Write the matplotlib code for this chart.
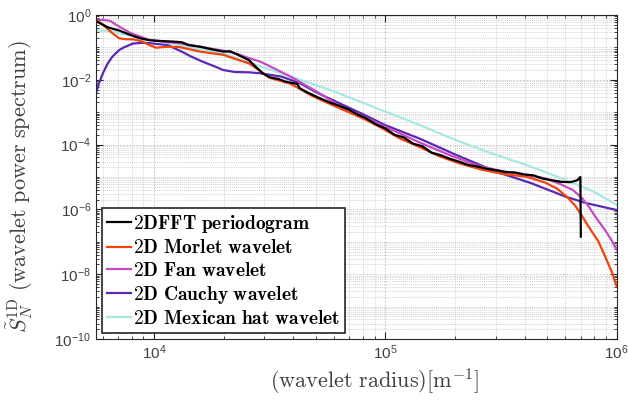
import numpy as np
import matplotlib
matplotlib.use("Agg")
import matplotlib.pyplot as plt
from matplotlib.ticker import LogLocator, NullFormatter

plt.rcParams["font.family"] = ["Liberation Sans", "DejaVu Sans"]
plt.rcParams["mathtext.fontset"] = "cm"

# values, stored as log10(x), log10(y)
fft_lx = [3.75, 3.80, 3.85, 3.90, 3.94, 3.98, 4.02, 4.08, 4.12, 4.15, 4.20, 4.25, 4.30, 4.33,
          4.36, 4.41, 4.44, 4.47, 4.50, 4.54, 4.57, 4.60, 4.62, 4.63, 4.66, 4.69, 4.72, 4.76,
          4.80, 4.84, 4.88, 4.92, 4.96, 5.00, 5.04, 5.08, 5.12, 5.16, 5.20, 5.24, 5.28, 5.32,
          5.36, 5.40, 5.44, 5.48, 5.52, 5.56, 5.60, 5.64, 5.68, 5.72, 5.76, 5.80, 5.83, 5.843,
          5.845]
fft_ly = [-0.19, -0.38, -0.48, -0.62, -0.72, -0.78, -0.80, -0.82, -0.84, -0.93, -0.98, -1.06,
          -1.13, -1.12, -1.22, -1.39, -1.60, -1.80, -1.92, -1.98, -2.06, -2.10, -2.13, -2.26,
          -2.38, -2.48, -2.58, -2.70, -2.80, -2.91, -3.07, -3.20, -3.38, -3.50, -3.70, -3.78,
          -3.97, -4.05, -4.25, -4.33, -4.44, -4.53, -4.63, -4.68, -4.75, -4.79, -4.85, -4.86,
          -4.92, -4.95, -5.05, -5.10, -5.15, -5.16, -5.10, -5.00, -6.84]

morlet_lx = [3.75, 3.78, 3.82, 3.85, 3.88, 3.91, 3.95, 3.98, 4.01, 4.06, 4.11, 4.20, 4.30,
             4.37, 4.41, 4.45, 4.50, 4.59, 4.69, 4.80, 4.90, 4.97, 5.06, 5.15, 5.23, 5.32,
             5.42, 5.52, 5.61, 5.69, 5.74, 5.78, 5.82, 5.85, 5.88, 5.92, 5.95, 5.98, 6.00]
morlet_ly = [-0.15, -0.30, -0.56, -0.72, -0.75, -0.75, -0.82, -0.93, -1.01, -0.98, -0.99,
             -1.13, -1.23, -1.40, -1.49, -1.68, -1.94, -2.12, -2.52, -2.87, -3.18, -3.43,
             -3.80, -4.08, -4.35, -4.58, -4.78, -4.92, -4.99, -5.17, -5.35, -5.58, -5.88,
             -6.20, -6.55, -6.98, -7.45, -7.95, -8.38]

fan_lx = [3.75, 3.78, 3.81, 3.83, 3.85, 3.90, 3.98, 4.05, 4.11, 4.20, 4.30, 4.36, 4.41, 4.46,
          4.52, 4.59, 4.70, 4.80, 4.90, 5.00, 5.15, 5.28, 5.40, 5.49, 5.60, 5.69, 5.75, 5.81,
          5.85, 5.88, 5.91, 5.95, 5.98, 6.00]
fan_ly = [-0.15, -0.15, -0.18, -0.27, -0.36, -0.56, -0.77, -0.83, -0.87, -0.98, -1.10, -1.20,
          -1.33, -1.44, -1.65, -1.90, -2.35, -2.80, -3.12, -3.45, -3.94, -4.33, -4.65, -4.80,
          -4.93, -5.04, -5.20, -5.40, -5.65, -5.92, -6.25, -6.64, -6.98, -7.25]

cauchy_lx = [3.75, 3.76, 3.78, 3.80, 3.82, 3.85, 3.87, 3.91, 3.95, 3.98, 4.06, 4.12, 4.16,
             4.21, 4.26, 4.30, 4.35, 4.41, 4.46, 4.55, 4.63, 4.70, 4.80, 4.90, 5.00, 5.15,
             5.30, 5.48, 5.63, 5.78, 5.87, 6.00]
cauchy_ly = [-2.42, -2.15, -1.79, -1.50, -1.29, -1.08, -1.00, -0.88, -0.86, -0.87, -0.93,
             -1.13, -1.28, -1.44, -1.58, -1.70, -1.76, -1.77, -1.80, -1.90, -2.10, -2.38,
             -2.72, -3.05, -3.40, -3.82, -4.30, -4.84, -5.19, -5.61, -5.81, -6.02]

mexhat_lx = [3.75, 3.81, 3.90, 4.01, 4.16, 4.30, 4.37, 4.50, 4.76, 5.00, 5.15, 5.29, 5.45,
             5.61, 5.78, 5.90, 6.00]
mexhat_ly = [-0.48, -0.49, -0.65, -0.79, -1.00, -1.18, -1.37, -1.68, -2.31, -2.98, -3.40,
             -3.82, -4.25, -4.63, -5.09, -5.45, -5.86]

series = [
    ("2DFFT periodogram", fft_lx, fft_ly, "black"),
    ("2D Morlet wavelet", morlet_lx, morlet_ly, "#f0440c"),
    ("2D Fan wavelet", fan_lx, fan_ly, "#c44bc4"),
    ("2D Cauchy wavelet", cauchy_lx, cauchy_ly, "#5a28b4"),
    ("2D Mexican hat wavelet", mexhat_lx, mexhat_ly, "#a8e8e2"),
]

fig = plt.figure(figsize=(6.28, 4.05), dpi=100)
ax = fig.add_axes([0.153, 0.163, 0.829, 0.800])

# draw the last series first so black ends up on top, legend keeps original order
handles = {}
for label, lx, ly, color in reversed(series):
    (h,) = ax.plot(10 ** np.array(lx), 10 ** np.array(ly), color=color, lw=1.6)
    handles[label] = h

ax.set_xscale("log")
ax.set_yscale("log")
ax.set_xlim(10 ** 3.75, 1e6)
ax.set_ylim(1e-10, 1)

ax.set_yticks([1e-10, 1e-8, 1e-6, 1e-4, 1e-2, 1e0])
ax.yaxis.set_minor_locator(LogLocator(base=10, subs=np.arange(1, 10), numticks=100))
ax.yaxis.set_minor_formatter(NullFormatter())
ax.xaxis.set_minor_locator(LogLocator(base=10, subs=np.arange(2, 10), numticks=100))
ax.xaxis.set_minor_formatter(NullFormatter())

ax.grid(True, which="major", color="#bdbdbd", lw=0.6, ls=(0, (2, 2)))
ax.grid(True, which="minor", color="#c4c4c4", lw=0.5, ls=(0, (1.5, 1.5)))
ax.set_axisbelow(True)

ax.tick_params(which="both", direction="in", top=True, right=True, colors="#262626",
               labelcolor="#404040", labelsize=11)
ax.tick_params(which="major", length=5)
ax.tick_params(which="minor", length=2.5)
for s in ax.spines.values():
    s.set_color("#262626")
    s.set_linewidth(0.8)

ax.set_xlabel(r"$\mathrm{(wavelet\ radius)[m^{-1}]}$", fontsize=16, color="#404040")
ax.set_ylabel(r"$\tilde{S}_N^{\mathrm{1D}}\ \mathrm{(wavelet\ power\ spectrum)}$",
              fontsize=16, color="#404040")
ax.xaxis.set_label_coords(0.534, -0.085)
ax.yaxis.set_label_coords(-0.118, 0.47)

leg = ax.legend([handles[s[0]] for s in series],
                [r"$\mathbf{" + s[0].replace(" ", r"\ ") + "}$" for s in series],
                loc="lower left", fontsize=14, handlelength=1.25, handletextpad=0.08,
                labelspacing=0.22, borderpad=0.25, borderaxespad=0.3, fancybox=False,
                framealpha=1)
leg.get_frame().set_edgecolor("#262626")
leg.get_frame().set_linewidth(1.2)

fig.savefig("out.png", dpi=100)
